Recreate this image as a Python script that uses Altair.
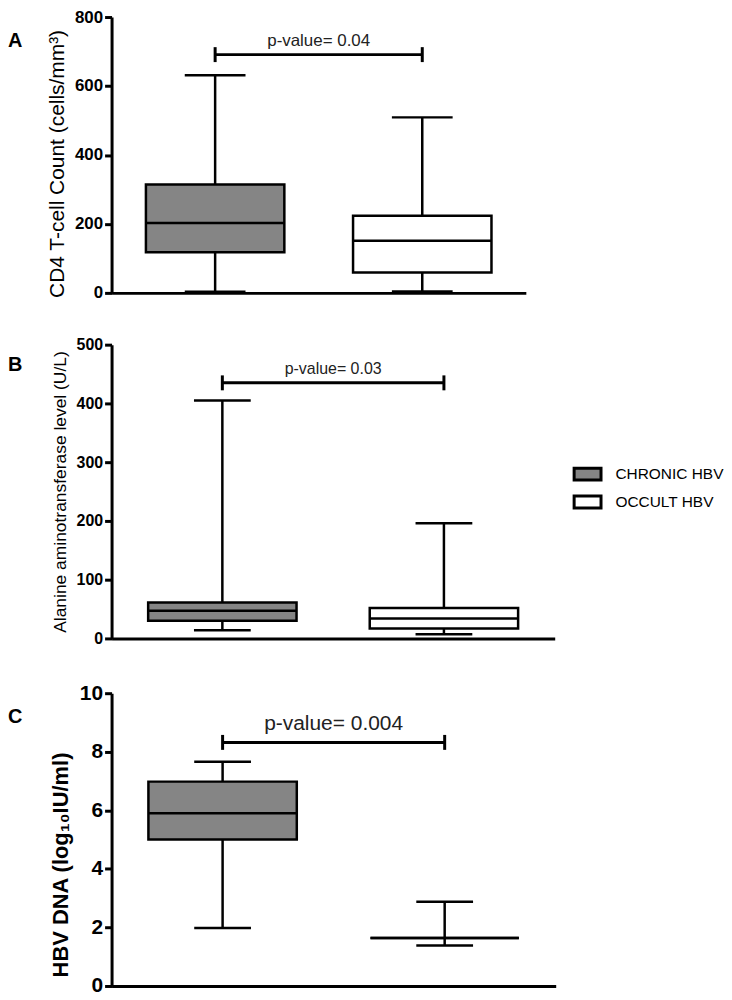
import altair as alt
import pandas as pd

FONT = "Liberation Sans"

groups = ["CHRONIC HBV", "OCCULT HBV"]
fill_colors = ["#858585", "#ffffff"]

# Panel A: CD4 T-cell count
a_min = [3, 4]
a_q1 = [118, 59]
a_med = [203, 151]
a_q3 = [314, 224]
a_max = [631, 509]
a_bracket = 691
a_text = "p-value= 0.04"
a_ticks = [0, 200, 400, 600, 800]

# Panel B: ALT level
b_min = [14, 7]
b_q1 = [30, 17]
b_med = [47, 34]
b_q3 = [61, 52]
b_max = [405, 196]
b_bracket = 435
b_text = "p-value= 0.03"
b_ticks = [0, 100, 200, 300, 400, 500]

# Panel C: HBV DNA
c_min = [1.98, 1.38]
c_q1 = [5.0, 1.64]
c_med = [5.9, 1.64]
c_q3 = [6.98, 1.64]
c_max = [7.66, 2.88]
c_bracket = 8.32
c_text = "p-value= 0.004"
c_ticks = [0, 2, 4, 6, 8, 10]


def panel(letter, vmin, q1, med, q3, vmax, br_y, br_text, ticks, ytitle,
          width, height, box_px, cap_px, label_size, title_size, title_weight,
          text_size, text_dy, letter_y, legend=None, title_y=None):
    df = pd.DataFrame({"group": groups, "vmin": vmin, "q1": q1, "median": med,
                       "q3": q3, "vmax": vmax})
    xs = alt.Scale(domain=groups, paddingInner=0, paddingOuter=0)
    xaxis = alt.Axis(labels=False, ticks=False, title=None, domainWidth=3,
                     domainColor="black", grid=False)
    ys = alt.Scale(domain=[ticks[0], ticks[-1]], nice=False)
    axis_kw = dict(values=ticks, title=ytitle, grid=False, domainWidth=3,
                   domainColor="black", tickWidth=3, tickColor="black",
                   tickSize=7, labelFont=FONT, labelFontSize=label_size,
                   labelFontWeight="bold", labelColor="black", labelPadding=2,
                   titleFont=FONT, titleFontSize=title_size,
                   titleFontWeight=title_weight, titleColor="black",
                   titlePadding=7)
    if title_y is not None:
        axis_kw["titleY"] = title_y
    yaxis = alt.Axis(**axis_kw)

    def X(field, **kw):
        return alt.X(field, type="nominal", scale=xs, axis=xaxis, **kw)

    def Y(field):
        return alt.Y(field, type="quantitative", scale=ys, axis=yaxis)

    base = alt.Chart(df)
    whisker = base.mark_rule(color="black", strokeWidth=2.5).encode(
        x=X("group"), y=Y("vmin"), y2="vmax")
    cap_lo = base.mark_tick(color="black", size=cap_px, thickness=2.5,
                            opacity=1).encode(x=X("group"), y=Y("vmin"))
    cap_hi = base.mark_tick(color="black", size=cap_px, thickness=2.5,
                            opacity=1).encode(x=X("group"), y=Y("vmax"))
    fill_kw = dict(scale=alt.Scale(domain=groups, range=fill_colors))
    fill_kw["legend"] = legend
    box = base.mark_bar(size=box_px, stroke="black", strokeWidth=2.5,
                        opacity=1).encode(
        x=X("group"), y=Y("q1"), y2="q3",
        fill=alt.Fill("group:N", **fill_kw))
    median = base.mark_tick(color="black", size=box_px, thickness=2.5,
                            opacity=1).encode(x=X("group"), y=Y("median"))

    br = pd.DataFrame({"start": [groups[0]], "end": [groups[1]], "y": [br_y],
                       "label": [br_text]})
    bracket = alt.Chart(br).mark_rule(color="black", strokeWidth=3).encode(
        x=X("start"), x2="end", y=Y("y"))
    ends = pd.DataFrame({"group": groups, "y": [br_y, br_y]})
    end_ticks = alt.Chart(ends).mark_tick(
        color="black", orient="vertical", size=15, thickness=3,
        opacity=1).encode(x=X("group"), y=Y("y"))
    ptext = alt.Chart(br).mark_text(
        font=FONT, fontSize=text_size, color="#222222", baseline="alphabetic",
        align="center", dy=text_dy).encode(
        x=X("start", bandPosition=1), y=Y("y"), text="label:N")

    lab = pd.DataFrame({"letter": [letter]})
    letter_mark = alt.Chart(lab).mark_text(
        font=FONT, fontSize=20, fontWeight="bold", color="black",
        align="left", baseline="middle").encode(
        x=alt.value(-104), y=alt.value(letter_y), text="letter:N")

    return alt.layer(whisker, cap_lo, cap_hi, box, median, bracket, end_ticks,
                     ptext, letter_mark).properties(
        width=width, height=height,
        view=alt.ViewBackground(stroke="transparent", strokeWidth=0))


legend_b = alt.Legend(title=None, orient="none", legendX=463, legendY=115,
                      symbolType="M-1,-0.44H1V0.44H-1Z", symbolSize=729,
                      symbolStrokeColor="black", symbolStrokeWidth=3,
                      labelFont=FONT, labelFontSize=15.5, labelColor="black",
                      labelOffset=13, rowPadding=1, padding=0)

pa = panel("A", a_min, a_q1, a_med, a_q3, a_max, a_bracket, a_text, a_ticks,
           "CD4 T-cell Count (cells/mm³)", 416, 277, 139, 61, 17, 21, "normal",
           17, -9, 24, title_y=147)
pb = panel("B", b_min, b_q1, b_med, b_q3, b_max, b_bracket, b_text, b_ticks,
           "Alanine aminotransferase level (U/L)", 445, 295, 149, 57, 16, 17.5,
           "normal", 16, -9, 20, legend=legend_b)
pc = panel("C", c_min, c_q1, c_med, c_q3, c_max, c_bracket, c_text, c_ticks,
           "HBV DNA (log₁₀IU/ml)", 446, 294, 149, 57, 21, 22, "bold",
           21, -12, 24, title_y=172)

chart = alt.vconcat(pa, pb, pc, spacing=36).resolve_scale(
    fill="independent").resolve_legend(fill="independent").properties(
    padding={"top": -2, "left": 0, "right": 0, "bottom": 0}).configure_view(
    stroke="transparent", strokeWidth=0).configure(background="white")

chart.save("out.html", embed_options={"renderer": "svg", "actions": False})
